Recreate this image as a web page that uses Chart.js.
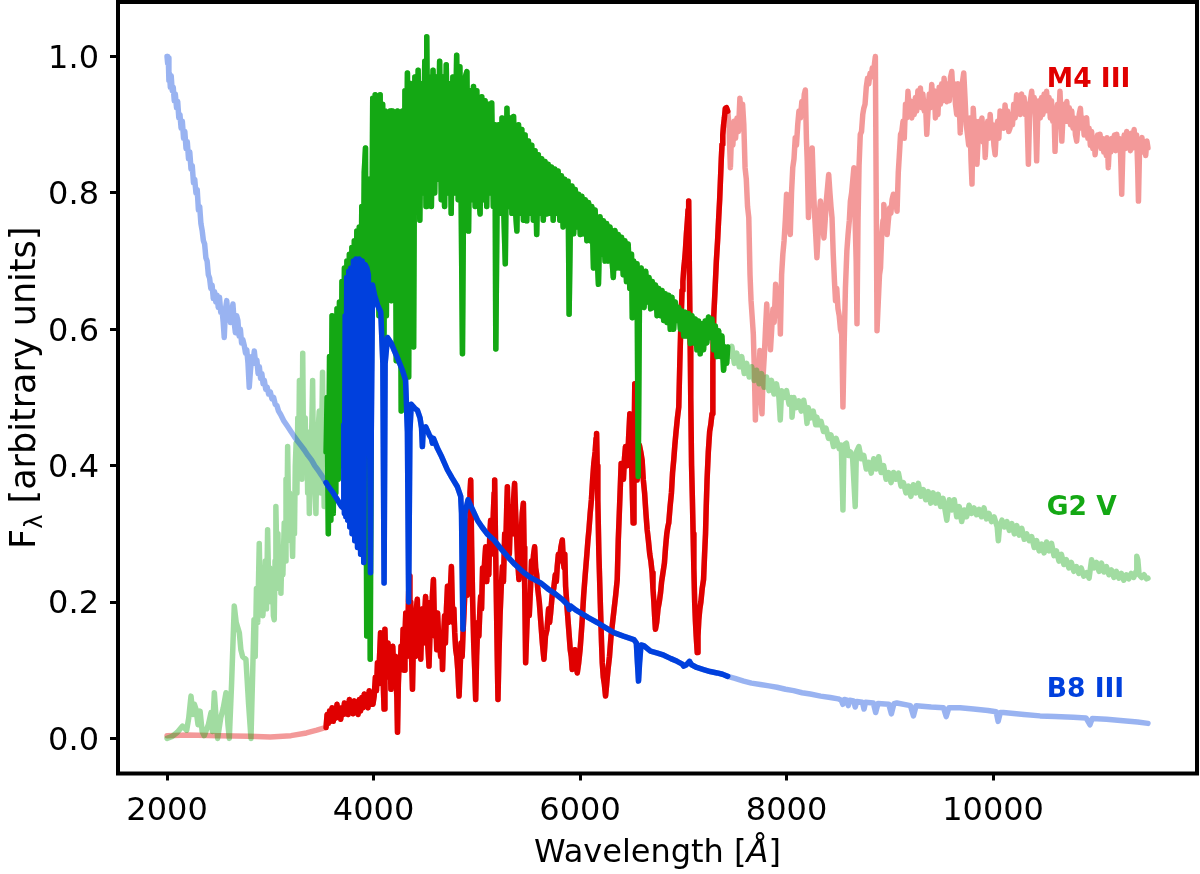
<!DOCTYPE html>
<html lang="en">
<head>
<meta charset="UTF-8">
<title>Stellar spectra</title>
<style>
  html, body { margin: 0; padding: 0; background: #fff; }
  #wrap { width: 1200px; height: 874px; }
</style>
</head>
<body>
<div id="wrap"><canvas id="spectra" width="1200" height="874"></canvas></div>
<script src="https://cdn.jsdelivr.net/npm/chart.js"></script>
<script>
// [wavelength (Angstrom), flux]
const b8III = [
  [2000,1.00],[2006,0.99],[2012,0.998],[2018,0.965],[2024,0.975],[2032,0.955],[2040,0.972],[2050,0.95],
  [2060,0.955],[2070,0.935],[2080,0.945],[2092,0.925],[2103,0.934],[2114,0.91],[2125,0.915],[2136,0.895],
  [2148,0.905],[2160,0.88],[2172,0.89],[2184,0.865],[2196,0.875],[2208,0.85],[2220,0.86],[2232,0.835],
  [2244,0.84],[2256,0.815],[2268,0.82],[2280,0.80],[2292,0.805],[2304,0.775],[2316,0.78],[2328,0.755],
  [2340,0.745],[2352,0.73],[2364,0.725],[2376,0.705],[2388,0.70],[2400,0.68],[2412,0.675],[2424,0.66],
  [2436,0.665],[2448,0.645],[2460,0.655],[2472,0.64],[2484,0.65],[2496,0.632],[2508,0.647],[2520,0.625],
  [2532,0.63],[2544,0.61],[2554,0.588],[2566,0.63],[2578,0.642],[2590,0.62],[2602,0.63],[2614,0.61],
  [2626,0.625],[2638,0.637],[2650,0.61],[2662,0.595],[2674,0.62],[2686,0.613],[2698,0.59],[2710,0.60],
  [2722,0.58],[2734,0.585],[2748,0.576],[2760,0.565],[2772,0.57],[2784,0.55],[2796,0.515],[2808,0.54],
  [2820,0.56],[2832,0.55],[2845,0.568],[2858,0.55],[2870,0.555],[2882,0.535],[2894,0.545],[2906,0.528],
  [2918,0.535],[2930,0.52],[2942,0.525],[2956,0.512],[2970,0.515],[2984,0.505],[3000,0.508],[3016,0.498],
  [3032,0.50],[3048,0.49],[3064,0.488],[3080,0.48],[3100,0.475],[3130,0.466],[3165,0.458],[3200,0.45],
  [3235,0.442],[3270,0.435],[3300,0.429],[3330,0.423],[3365,0.415],[3400,0.408],[3430,0.40],[3460,0.394],
  [3500,0.385],[3540,0.375],
  [3560,0.37],[3600,0.362],[3650,0.350],[3690,0.34],[3705,0.338],[3712,0.46],[3718,0.33],[3725,0.62],
  [3732,0.325],[3740,0.676],[3750,0.32],[3760,0.685],[3770,0.31],[3780,0.69],[3792,0.30],[3805,0.70],
  [3818,0.29],[3830,0.703],[3845,0.28],[3860,0.703],[3875,0.27],[3890,0.70],[3905,0.258],[3918,0.695],
  [3935,0.69],[3950,0.68],[3962,0.45],[3970,0.243],[3978,0.45],[3990,0.665],[4010,0.65],[4040,0.635],
  [4070,0.625],[4090,0.55],[4102,0.228],[4112,0.55],[4135,0.588],[4170,0.58],[4200,0.569],[4240,0.555],
  [4280,0.54],[4310,0.525],[4328,0.45],[4340,0.20],[4352,0.45],[4365,0.49],[4400,0.484],[4425,0.481],
  [4450,0.47],[4465,0.455],[4473,0.428],[4482,0.455],[4505,0.457],[4540,0.445],[4560,0.44],[4570,0.433],
  [4580,0.44],[4620,0.425],[4660,0.413],[4715,0.394],[4760,0.382],[4812,0.369],[4844,0.355],[4852,0.33],
  [4858,0.25],[4866,0.16],[4874,0.25],[4885,0.33],[4915,0.35],[4960,0.335],[5006,0.32],[5050,0.31],
  [5100,0.30],[5166,0.291],[5230,0.279],[5296,0.267],[5370,0.255],[5457,0.243],[5530,0.235],[5618,0.228],
  [5700,0.218],[5760,0.212],[5827,0.204],[5880,0.196],[5895,0.189],[5910,0.194],[5960,0.188],[6005,0.184],
  [6080,0.177],[6166,0.17],[6250,0.162],[6327,0.155],[6420,0.15],[6520,0.145],[6545,0.14],[6556,0.11],
  [6566,0.084],[6576,0.11],[6590,0.137],[6617,0.136],[6682,0.128],[6750,0.125],[6811,0.122],[6880,0.117],
  [6940,0.113],[6990,0.109],[7004,0.106],[7030,0.108],[7060,0.113],[7080,0.108],[7130,0.104],[7196,0.101],
  [7260,0.098],[7327,0.096],[7380,0.094],[7430,0.091],
  [7500,0.088],[7585,0.084],[7660,0.081],[7746,0.079],[7830,0.077],[7907,0.075],[7990,0.072],[8068,0.070],
  [8150,0.067],[8230,0.065],[8330,0.062],[8423,0.060],[8500,0.058],[8530,0.056],[8545,0.050],[8560,0.057],
  [8585,0.056],[8598,0.048],[8612,0.056],[8650,0.055],[8665,0.046],[8680,0.054],[8735,0.053],[8750,0.043],
  [8765,0.053],[8840,0.052],[8863,0.038],[8885,0.051],[8990,0.050],[9015,0.036],[9040,0.051],[9068,0.052],
  [9200,0.048],[9229,0.033],[9255,0.048],[9400,0.046],[9520,0.045],[9546,0.032],[9572,0.045],[9681,0.045],
  [9810,0.043],[9950,0.041],[10030,0.039],[10049,0.025],[10070,0.038],[10100,0.038],[10300,0.035],[10455,0.033],
  [10600,0.032],[10777,0.031],[10900,0.030],[10938,0.020],[10960,0.029],[11100,0.028],[11261,0.026],[11400,0.024],
  [11500,0.022]
];

const g2V = [
  [2000,0.0],[2050,0.003],[2100,0.009],[2150,0.018],[2190,0.012],[2210,0.03],[2232,0.062],[2250,0.035],
  [2265,0.05],[2280,0.043],[2300,0.02],[2320,0.04],[2340,0.01],[2360,0.004],[2400,0.02],[2426,0.038],
  [2440,0.01],[2458,0.067],[2475,0.03],[2490,0.0],[2520,0.03],[2545,0.045],[2571,0.067],[2590,0.02],
  [2603,0.0],[2625,0.08],[2651,0.194],[2670,0.17],[2700,0.155],[2715,0.13],[2732,0.12],[2764,0.116],
  [2790,0.05],[2813,0.0],[2830,0.10],[2842,0.174],[2854,0.12],[2866,0.22],[2878,0.17],[2893,0.286],
  [2904,0.20],[2915,0.24],[2928,0.18],[2941,0.213],[2952,0.26],[2963,0.19],[2974,0.306],[2985,0.22],
  [2996,0.25],[3008,0.20],[3020,0.24],[3030,0.18],[3038,0.174],[3046,0.26],[3054,0.34],[3064,0.26],
  [3074,0.30],[3084,0.22],[3094,0.25],[3103,0.213],[3112,0.27],[3122,0.24],[3135,0.316],[3144,0.26],
  [3152,0.38],[3160,0.30],[3168,0.428],[3177,0.33],[3186,0.36],[3195,0.29],[3204,0.32],[3216,0.267],
  [3225,0.35],[3234,0.30],[3242,0.40],[3250,0.433],[3258,0.36],[3266,0.47],[3274,0.40],[3282,0.525],
  [3290,0.42],[3298,0.46],[3306,0.38],[3314,0.565],[3322,0.42],[3330,0.398],[3338,0.47],[3346,0.40],
  [3354,0.45],[3362,0.36],[3370,0.42],[3378,0.33],[3386,0.40],[3394,0.408],[3402,0.46],[3410,0.525],
  [3418,0.40],[3426,0.44],[3434,0.36],[3442,0.33],[3450,0.41],[3458,0.37],[3466,0.46],[3474,0.48],
  [3482,0.40],[3490,0.36],[3498,0.45],[3506,0.537],[3514,0.42],[3522,0.34],[3530,0.45],[3540,0.42],
  [3550,0.50],[3562,0.30],[3574,0.56],[3586,0.32],[3598,0.62],[3610,0.33],[3622,0.60],[3634,0.36],
  [3646,0.63],[3658,0.38],[3670,0.64],[3682,0.40],[3694,0.67],[3706,0.44],[3718,0.69],[3730,0.48],
  [3742,0.70],[3754,0.52],[3766,0.71],[3778,0.55],[3790,0.72],[3802,0.58],[3814,0.73],[3826,0.56],
  [3838,0.744],[3850,0.60],[3862,0.75],[3874,0.57],[3886,0.78],[3898,0.62],[3910,0.83],[3922,0.866],
  [3934,0.15],[3946,0.50],[3956,0.82],[3968,0.116],[3980,0.62],[3992,0.939],[4004,0.66],[4016,0.944],
  [4028,0.70],[4040,0.93],[4052,0.62],[4064,0.944],[4076,0.68],[4088,0.93],[4100,0.55],[4112,0.92],
  [4124,0.62],[4136,0.90],[4148,0.70],[4160,0.92],[4172,0.642],[4184,0.92],[4196,0.72],[4208,0.91],
  [4220,0.554],[4232,0.92],[4244,0.66],[4256,0.90],[4268,0.48],[4280,0.92],[4292,0.50],[4304,0.95],
  [4316,0.70],[4328,0.976],[4340,0.53],[4352,0.961],[4364,0.74],[4376,0.95],[4388,0.574],[4400,0.97],
  [4416,0.78],[4432,0.98],[4448,0.76],[4464,0.96],[4480,0.80],[4496,0.993],[4508,0.78],[4515,1.029],
  [4528,0.80],[4544,0.97],[4560,0.78],[4576,0.98],[4592,0.80],[4608,0.97],[4624,0.82],[4640,0.993],
  [4656,0.79],[4672,0.97],[4688,0.78],[4704,0.988],[4720,0.80],[4736,0.96],[4752,0.77],[4768,0.97],
  [4784,0.80],[4805,1.002],[4820,0.79],[4836,0.985],[4848,0.80],[4861,0.564],[4872,0.80],[4888,0.97],
  [4904,0.978],[4920,0.744],[4936,0.95],[4952,0.79],[4968,0.956],[4984,0.78],[5000,0.95],[5016,0.80],
  [5032,0.769],[5048,0.941],[5064,0.79],[5080,0.935],[5096,0.78],[5112,0.93],[5128,0.80],[5144,0.932],
  [5160,0.78],[5176,0.90],[5184,0.571],[5196,0.78],[5212,0.90],[5228,0.77],[5244,0.91],[5260,0.78],
  [5276,0.696],[5292,0.924],[5308,0.78],[5324,0.91],[5340,0.77],[5356,0.912],[5372,0.78],[5388,0.744],
  [5404,0.90],[5420,0.77],[5436,0.893],[5452,0.76],[5468,0.885],[5484,0.759],[5500,0.876],[5516,0.77],
  [5532,0.87],[5548,0.76],[5564,0.862],[5580,0.739],[5596,0.856],[5612,0.77],[5628,0.85],[5644,0.76],
  [5660,0.846],[5676,0.769],[5692,0.842],[5708,0.77],[5724,0.838],[5740,0.76],[5756,0.835],[5772,0.77],
  [5788,0.832],[5804,0.76],[5820,0.825],[5836,0.75],[5852,0.82],[5868,0.76],[5884,0.817],[5894,0.622],
  [5906,0.75],[5922,0.81],[5938,0.74],[5954,0.805],[5970,0.75],[5986,0.798],[6002,0.739],[6018,0.795],
  [6034,0.74],[6050,0.79],[6066,0.73],[6082,0.786],[6098,0.73],[6114,0.78],[6130,0.69],[6146,0.775],
  [6162,0.72],[6178,0.666],[6194,0.765],[6210,0.71],[6226,0.759],[6242,0.70],[6258,0.755],[6274,0.70],
  [6290,0.75],[6306,0.71],[6322,0.676],[6338,0.745],[6354,0.69],[6370,0.739],[6386,0.69],[6402,0.735],
  [6418,0.68],[6434,0.73],[6450,0.67],[6466,0.725],[6482,0.66],[6498,0.71],[6506,0.617],[6520,0.70],
  [6536,0.66],[6552,0.696],[6563,0.384],[6576,0.66],[6592,0.69],[6608,0.64],[6620,0.632],[6636,0.685],
  [6652,0.64],[6668,0.676],[6684,0.63],[6700,0.67],[6714,0.632],[6730,0.665],[6746,0.62],[6762,0.66],
  [6778,0.62],[6794,0.657],[6810,0.613],[6826,0.652],[6842,0.61],[6858,0.65],[6874,0.60],[6890,0.647],
  [6906,0.60],[6922,0.64],[6940,0.613],[6956,0.632],[6972,0.60],[6988,0.627],[7004,0.59],[7020,0.625],
  [7036,0.59],[7052,0.623],[7068,0.579],[7084,0.62],[7100,0.58],[7116,0.615],[7132,0.57],[7148,0.612],
  [7164,0.564],[7180,0.608],[7196,0.57],[7212,0.612],[7228,0.58],[7244,0.618],[7262,0.588],[7278,0.615],
  [7294,0.57],[7310,0.605],[7326,0.56],[7342,0.598],[7358,0.56],[7374,0.59],[7390,0.54],[7406,0.574],
  [7420,0.55],[7430,0.574],
  [7446,0.56],[7470,0.575],[7494,0.55],[7518,0.565],[7542,0.545],[7566,0.56],[7590,0.535],[7614,0.55],
  [7638,0.53],[7662,0.545],[7686,0.525],[7710,0.54],[7734,0.52],[7758,0.535],[7782,0.515],[7806,0.53],
  [7830,0.51],[7854,0.525],[7878,0.505],[7902,0.52],[7926,0.50],[7939,0.467],[7952,0.51],[7976,0.50],
  [8000,0.51],[8024,0.49],[8048,0.50],[8053,0.471],[8070,0.50],[8094,0.485],[8118,0.495],[8142,0.48],
  [8166,0.496],[8190,0.475],[8198,0.462],[8210,0.485],[8234,0.47],[8258,0.48],[8282,0.46],[8294,0.471],
  [8310,0.46],[8334,0.465],[8358,0.45],[8382,0.455],[8406,0.44],[8430,0.445],[8455,0.428],[8480,0.44],
  [8510,0.425],[8530,0.43],[8546,0.335],[8556,0.43],[8580,0.433],[8600,0.415],[8620,0.42],[8640,0.41],
  [8665,0.34],[8676,0.42],[8700,0.428],[8724,0.41],[8748,0.415],[8772,0.395],[8796,0.405],[8820,0.389],
  [8844,0.41],[8868,0.395],[8892,0.413],[8916,0.39],[8940,0.40],[8964,0.38],[8988,0.39],[9012,0.375],
  [9036,0.39],[9060,0.38],[9084,0.389],[9108,0.37],[9132,0.375],[9156,0.36],[9180,0.37],[9204,0.355],
  [9228,0.372],[9252,0.36],[9276,0.374],[9300,0.355],[9324,0.365],[9348,0.35],[9372,0.362],[9396,0.345],
  [9420,0.36],[9444,0.345],[9468,0.358],[9492,0.34],[9516,0.352],[9552,0.32],[9576,0.35],[9600,0.335],
  [9624,0.35],[9648,0.325],[9672,0.34],[9696,0.318],[9720,0.335],[9744,0.325],[9768,0.342],[9792,0.33],
  [9816,0.338],[9840,0.328],[9864,0.336],[9888,0.325],[9912,0.338],[9936,0.322],[9960,0.33],[9984,0.318],
  [10010,0.325],[10040,0.31],[10051,0.29],[10062,0.31],[10086,0.32],[10110,0.31],[10134,0.318],[10158,0.305],
  [10182,0.315],[10206,0.30],[10230,0.312],[10254,0.298],[10278,0.308],[10302,0.292],[10326,0.30],[10350,0.29],
  [10374,0.296],[10398,0.28],[10422,0.29],[10446,0.275],[10470,0.285],[10494,0.272],[10518,0.288],[10542,0.275],
  [10566,0.286],[10590,0.268],[10614,0.275],[10638,0.26],[10662,0.27],[10686,0.255],[10710,0.262],[10734,0.25],
  [10758,0.258],[10782,0.245],[10806,0.252],[10830,0.242],[10854,0.25],[10878,0.238],[10906,0.243],[10930,0.235],
  [10954,0.262],[10978,0.25],[11002,0.258],[11026,0.245],[11050,0.257],[11074,0.244],[11098,0.252],[11122,0.24],
  [11146,0.247],[11170,0.236],[11194,0.245],[11218,0.235],[11242,0.242],[11266,0.232],[11290,0.24],[11314,0.234],
  [11338,0.242],[11362,0.236],[11386,0.245],[11392,0.267],[11402,0.262],[11414,0.24],[11438,0.236],[11462,0.24],
  [11486,0.234],[11500,0.235]
];

const m4III = [
  [2000,0.004],[2200,0.005],[2500,0.004],[2800,0.003],[3000,0.002],[3200,0.004],[3350,0.008],[3450,0.012],
  [3540,0.016],
  [3550,0.035],[3562,0.022],[3574,0.04],[3586,0.025],[3598,0.045],[3610,0.025],[3622,0.04],[3634,0.03],
  [3646,0.05],[3658,0.032],[3670,0.04],[3682,0.028],[3694,0.045],[3706,0.035],[3718,0.052],[3730,0.036],
  [3742,0.045],[3754,0.035],[3766,0.057],[3778,0.04],[3790,0.05],[3802,0.036],[3814,0.055],[3826,0.04],
  [3838,0.05],[3850,0.035],[3862,0.057],[3874,0.04],[3886,0.06],[3898,0.045],[3910,0.065],[3922,0.05],
  [3934,0.055],[3946,0.045],[3958,0.07],[3970,0.05],[3982,0.065],[3994,0.05],[4006,0.062],[4018,0.09],
  [4028,0.07],[4038,0.111],[4048,0.08],[4058,0.12],[4068,0.155],[4078,0.10],[4088,0.13],[4096,0.07],
  [4102,0.043],[4110,0.16],[4120,0.11],[4130,0.09],[4140,0.14],[4150,0.10],[4160,0.13],[4168,0.072],
  [4178,0.12],[4186,0.135],[4196,0.10],[4206,0.121],[4216,0.09],[4226,0.06],[4232,0.009],[4240,0.08],
  [4250,0.12],[4258,0.10],[4266,0.135],[4276,0.11],[4286,0.16],[4296,0.10],[4304,0.15],[4312,0.184],
  [4320,0.12],[4330,0.15],[4338,0.20],[4344,0.238],[4352,0.17],[4360,0.20],[4368,0.12],[4377,0.072],
  [4386,0.14],[4394,0.17],[4404,0.12],[4414,0.19],[4424,0.204],[4432,0.15],[4440,0.17],[4448,0.13],
  [4457,0.116],[4466,0.16],[4474,0.19],[4484,0.14],[4494,0.18],[4504,0.208],[4512,0.16],[4520,0.15],
  [4528,0.13],[4537,0.106],[4546,0.15],[4554,0.20],[4562,0.17],[4570,0.21],[4580,0.233],[4588,0.18],
  [4596,0.15],[4604,0.17],[4612,0.13],[4620,0.184],[4630,0.15],[4640,0.14],[4650,0.12],[4660,0.15],
  [4668,0.101],[4678,0.15],[4688,0.18],[4696,0.14],[4706,0.19],[4716,0.223],[4724,0.17],[4734,0.18],
  [4744,0.22],[4754,0.252],[4762,0.20],[4770,0.17],[4778,0.19],[4786,0.155],[4796,0.13],[4806,0.12],
  [4816,0.10],[4828,0.062],[4838,0.10],[4848,0.14],[4858,0.12],[4868,0.16],[4876,0.184],[4886,0.22],
  [4896,0.26],[4906,0.21],[4916,0.30],[4926,0.32],[4934,0.36],[4941,0.379],[4950,0.28],[4960,0.20],
  [4970,0.14],[4980,0.10],[4989,0.057],[4998,0.12],[5010,0.17],[5020,0.15],[5030,0.19],[5037,0.208],
  [5046,0.19],[5056,0.25],[5066,0.23],[5076,0.26],[5086,0.281],[5096,0.23],[5106,0.26],[5116,0.24],
  [5126,0.30],[5134,0.32],[5142,0.27],[5150,0.28],[5160,0.33],[5168,0.36],[5173,0.379],[5182,0.28],
  [5190,0.20],[5198,0.12],[5205,0.057],[5214,0.12],[5225,0.18],[5236,0.22],[5248,0.252],[5258,0.23],
  [5270,0.30],[5280,0.28],[5290,0.34],[5296,0.369],[5306,0.30],[5315,0.27],[5325,0.32],[5335,0.34],
  [5345,0.30],[5356,0.35],[5366,0.374],[5376,0.33],[5385,0.30],[5396,0.26],[5408,0.233],[5418,0.27],
  [5430,0.30],[5440,0.33],[5451,0.345],[5458,0.28],[5464,0.22],[5473,0.111],[5484,0.16],[5495,0.20],
  [5508,0.18],[5521,0.223],[5530,0.26],[5540,0.25],[5550,0.27],[5560,0.281],[5570,0.25],[5580,0.24],
  [5590,0.22],[5605,0.20],[5620,0.17],[5635,0.14],[5650,0.116],[5665,0.15],[5680,0.16],[5695,0.19],
  [5705,0.17],[5715,0.184],[5730,0.21],[5745,0.22],[5760,0.24],[5770,0.23],[5779,0.252],[5790,0.27],
  [5800,0.26],[5814,0.28],[5828,0.291],[5838,0.26],[5845,0.25],[5852,0.27],[5860,0.223],[5875,0.19],
  [5890,0.16],[5905,0.13],[5915,0.12],[5924,0.101],[5935,0.12],[5950,0.13],[5962,0.11],[5973,0.096],
  [5986,0.11],[6000,0.13],[6010,0.15],[6021,0.174],[6035,0.21],[6050,0.24],[6066,0.27],[6076,0.29],
  [6086,0.306],[6098,0.33],[6110,0.35],[6122,0.38],[6133,0.403],[6146,0.42],[6155,0.44],[6160,0.447],
  [6166,0.40],[6172,0.35],[6182,0.272],[6192,0.22],[6200,0.18],[6208,0.14],[6215,0.111],[6225,0.09],
  [6235,0.08],[6247,0.062],[6258,0.08],[6270,0.10],[6285,0.12],[6300,0.15],[6315,0.17],[6330,0.19],
  [6345,0.21],[6360,0.233],[6370,0.29],[6380,0.33],[6390,0.37],[6398,0.403],[6408,0.39],[6420,0.38],
  [6430,0.41],[6440,0.428],[6450,0.41],[6460,0.40],[6470,0.44],[6482,0.476],[6492,0.44],[6500,0.40],
  [6508,0.35],[6514,0.316],[6522,0.42],[6530,0.52],[6540,0.45],[6553,0.379],[6563,0.40],[6575,0.43],
  [6588,0.42],[6601,0.408],[6612,0.38],[6625,0.36],[6638,0.33],[6650,0.306],[6662,0.29],[6675,0.27],
  [6686,0.26],[6698,0.243],[6706,0.22],[6715,0.20],[6722,0.18],[6730,0.16],[6742,0.17],[6755,0.19],
  [6767,0.20],[6779,0.213],[6790,0.23],[6800,0.24],[6810,0.25],[6817,0.257],[6828,0.28],[6840,0.30],
  [6850,0.31],[6859,0.316],[6872,0.34],[6885,0.36],[6896,0.39],[6907,0.408],[6918,0.43],[6930,0.45],
  [6943,0.47],[6956,0.486],[6966,0.55],[6975,0.60],[6982,0.63],[6988,0.657],[6996,0.67],[7005,0.69],
  [7012,0.70],[7020,0.715],[7030,0.74],[7040,0.76],[7046,0.775],[7052,0.788],[7058,0.70],[7065,0.60],
  [7072,0.50],[7080,0.40],[7088,0.35],[7095,0.30],[7102,0.25],[7110,0.20],[7118,0.17],[7125,0.15],
  [7135,0.126],[7142,0.15],[7150,0.174],[7160,0.19],[7170,0.20],[7183,0.22],[7196,0.233],[7206,0.27],
  [7215,0.30],[7222,0.34],[7230,0.379],[7242,0.42],[7255,0.45],[7266,0.46],[7278,0.476],[7286,0.55],
  [7295,0.62],[7308,0.66],[7320,0.70],[7332,0.73],[7343,0.764],[7352,0.79],[7360,0.82],[7368,0.85],
  [7375,0.871],[7382,0.885],[7390,0.90],[7398,0.91],[7407,0.924],[7418,0.925],[7430,0.92],
  [7442,0.90],[7456,0.837],[7468,0.89],[7480,0.87],[7492,0.905],[7506,0.88],[7520,0.91],[7534,0.89],
  [7548,0.939],[7560,0.91],[7574,0.93],[7586,0.90],[7598,0.837],[7610,0.82],[7622,0.78],[7634,0.764],
  [7646,0.68],[7656,0.642],[7666,0.62],[7678,0.593],[7688,0.54],[7698,0.467],[7708,0.515],[7718,0.50],
  [7730,0.53],[7742,0.569],[7752,0.50],[7762,0.476],[7772,0.53],[7784,0.56],[7796,0.60],[7808,0.637],
  [7820,0.59],[7832,0.61],[7844,0.57],[7856,0.60],[7868,0.63],[7880,0.61],[7894,0.666],[7906,0.64],
  [7918,0.62],[7930,0.66],[7940,0.593],[7952,0.68],[7964,0.71],[7976,0.73],[7988,0.76],[8000,0.798],
  [8012,0.77],[8024,0.75],[8036,0.739],[8048,0.80],[8060,0.837],[8072,0.85],[8084,0.881],[8096,0.87],
  [8108,0.90],[8120,0.92],[8134,0.91],[8148,0.934],[8160,0.92],[8172,0.945],[8182,0.951],[8192,0.88],
  [8200,0.847],[8212,0.764],[8224,0.82],[8236,0.85],[8248,0.866],[8260,0.81],[8270,0.773],[8282,0.74],
  [8294,0.705],[8306,0.74],[8318,0.77],[8328,0.788],[8340,0.77],[8352,0.75],[8362,0.734],[8374,0.76],
  [8386,0.79],[8398,0.81],[8408,0.827],[8420,0.80],[8430,0.78],[8440,0.764],[8452,0.71],[8464,0.67],
  [8474,0.642],[8486,0.66],[8498,0.63],[8510,0.62],[8522,0.60],[8534,0.593],[8546,0.486],[8558,0.58],
  [8570,0.66],[8584,0.715],[8596,0.74],[8608,0.76],[8618,0.788],[8630,0.80],[8642,0.82],[8652,0.837],
  [8664,0.76],[8674,0.70],[8682,0.608],[8692,0.76],[8702,0.84],[8714,0.886],[8726,0.89],[8738,0.915],
  [8748,0.924],[8760,0.93],[8772,0.955],[8784,0.968],[8796,0.96],[8808,0.975],[8820,0.97],[8830,0.983],
  [8842,0.975],[8852,0.99],[8860,1.0],[8868,0.80],[8876,0.598],[8888,0.64],[8900,0.68],[8910,0.69],
  [8922,0.74],[8934,0.76],[8942,0.783],[8954,0.76],[8964,0.75],[8974,0.739],[8986,0.76],[8998,0.778],
  [9010,0.77],[9022,0.79],[9034,0.798],[9046,0.78],[9058,0.79],[9070,0.773],[9082,0.83],[9094,0.86],
  [9104,0.886],[9116,0.89],[9128,0.905],[9140,0.88],[9152,0.93],[9164,0.91],[9176,0.949],[9188,0.92],
  [9200,0.935],[9212,0.91],[9224,0.93],[9236,0.915],[9248,0.94],[9260,0.92],[9272,0.95],[9284,0.93],
  [9296,0.954],[9308,0.925],[9320,0.945],[9334,0.92],[9346,0.93],[9358,0.886],[9370,0.92],[9382,0.945],
  [9394,0.925],[9406,0.959],[9418,0.93],[9430,0.95],[9442,0.91],[9454,0.935],[9466,0.915],[9478,0.955],
  [9490,0.93],[9502,0.96],[9514,0.935],[9526,0.968],[9538,0.94],[9552,0.934],[9564,0.96],[9576,0.935],
  [9588,0.97],[9600,0.978],[9612,0.945],[9624,0.96],[9636,0.93],[9648,0.915],[9660,0.96],[9670,0.94],
  [9682,0.888],[9694,0.95],[9706,0.965],[9716,0.976],[9728,0.94],[9740,0.90],[9752,0.886],[9764,0.87],
  [9776,0.91],[9786,0.85],[9796,0.813],[9808,0.924],[9820,0.89],[9832,0.905],[9844,0.842],[9856,0.88],
  [9868,0.905],[9880,0.88],[9892,0.91],[9904,0.875],[9914,0.89],[9924,0.852],[9936,0.89],[9948,0.905],
  [9960,0.88],[9972,0.915],[9984,0.885],[9996,0.90],[10008,0.87],[10020,0.856],[10032,0.89],[10044,0.905],
  [10056,0.88],[10068,0.92],[10080,0.90],[10092,0.915],[10104,0.895],[10116,0.929],[10128,0.905],[10140,0.92],
  [10152,0.89],[10164,0.895],[10176,0.915],[10188,0.90],[10200,0.93],[10214,0.91],[10228,0.944],[10240,0.92],
  [10252,0.94],[10264,0.915],[10276,0.945],[10288,0.92],[10300,0.94],[10312,0.915],[10326,0.93],[10342,0.842],
  [10356,0.93],[10374,0.949],[10386,0.925],[10398,0.94],[10410,0.91],[10422,0.847],[10434,0.92],[10446,0.935],
  [10458,0.91],[10470,0.94],[10482,0.915],[10494,0.945],[10506,0.92],[10518,0.949],[10530,0.925],[10542,0.94],
  [10554,0.91],[10566,0.935],[10578,0.905],[10590,0.92],[10600,0.861],[10612,0.91],[10624,0.93],[10636,0.91],
  [10648,0.949],[10658,0.91],[10666,0.876],[10678,0.915],[10690,0.93],[10702,0.905],[10714,0.934],[10726,0.905],
  [10738,0.925],[10750,0.90],[10762,0.92],[10774,0.895],[10786,0.91],[10798,0.885],[10810,0.876],[10822,0.90],
  [10834,0.915],[10846,0.924],[10858,0.895],[10870,0.91],[10882,0.885],[10894,0.905],[10906,0.91],[10918,0.88],
  [10930,0.895],[10942,0.87],[10954,0.89],[10966,0.865],[10978,0.88],[10988,0.856],[11000,0.875],[11012,0.885],
  [11024,0.87],[11036,0.886],[11048,0.865],[11060,0.88],[11072,0.86],[11084,0.875],[11096,0.855],[11104,0.881],
  [11116,0.837],[11128,0.875],[11140,0.86],[11152,0.88],[11164,0.865],[11176,0.885],[11188,0.862],[11198,0.886],
  [11210,0.865],[11222,0.88],[11234,0.86],[11246,0.798],[11258,0.87],[11270,0.885],[11282,0.865],[11294,0.89],
  [11306,0.87],[11318,0.885],[11330,0.862],[11342,0.888],[11354,0.866],[11366,0.893],[11378,0.87],[11390,0.885],
  [11400,0.84],[11408,0.788],[11418,0.86],[11430,0.875],[11442,0.881],[11454,0.86],[11466,0.875],[11478,0.855],
  [11490,0.876],[11500,0.866]
];

const xTicks = [2000, 4000, 6000, 8000, 10000];
const yTicks = [0.0, 0.2, 0.4, 0.6, 0.8, 1.0];
const starNames = ['M4 III', 'G2 V', 'B8 III'];
// part of each spectrum drawn in full colour (optical coverage)
const opticalRange = [3540, 7435];

const colors = {
  red: '#e00000', redLight: 'rgba(224,0,0,0.4)',
  green: '#14a814', greenLight: 'rgba(20,168,20,0.4)',
  blue: '#0040dd', blueLight: 'rgba(0,64,221,0.4)'
};
const labelColors = [colors.red, colors.green, colors.blue];
// where the star names sit, in data units
const labelAnchor = { x: 10520, y: [0.956, 0.328, 0.060] };

function toPoints(spec) {
  return spec.map(([w, f]) => ({ x: w, y: f }));
}
function optical(spec) {
  return toPoints(spec.filter(([w]) => w >= opticalRange[0] && w <= opticalRange[1]));
}
function line(label, data, color) {
  return {
    label, data,
    borderColor: color,
    borderWidth: 5.5,
    pointRadius: 0,
    tension: 0,
    fill: false,
    borderJoinStyle: 'round',
    borderCapStyle: 'round'
  };
}

// draw a line of text made of pieces with different fonts, centred on cx
function drawRuns(ctx, runs, cx, baseline) {
  let total = 0;
  runs.forEach(r => { ctx.font = r.font; r.w = ctx.measureText(r.text).width; total += r.w; });
  let x = cx - total / 2;
  runs.forEach(r => {
    ctx.font = r.font;
    ctx.fillText(r.text, x, baseline + (r.dy || 0));
    x += r.w;
  });
}

const FONT = '"DejaVu Sans", sans-serif';

const decorations = {
  id: 'decorations',
  afterDatasetsDraw(chart) {
    const { ctx, chartArea: a, scales } = chart;
    ctx.save();
    ctx.strokeStyle = '#000';
    ctx.lineWidth = 4;
    ctx.strokeRect(a.left, a.top, a.right - a.left, a.bottom - a.top);

    ctx.font = 'bold 26.5px ' + FONT;
    ctx.textAlign = 'left';
    ctx.textBaseline = 'alphabetic';
    starNames.forEach((name, i) => {
      ctx.fillStyle = labelColors[i];
      ctx.fillText(name, scales.x.getPixelForValue(labelAnchor.x), scales.y.getPixelForValue(labelAnchor.y[i]));
    });

    // axis titles
    ctx.fillStyle = '#000';
    drawRuns(ctx, [
      { text: 'Wavelength [', font: '32px ' + FONT },
      { text: 'Å', font: 'italic 32px ' + FONT },
      { text: ']', font: '32px ' + FONT }
    ], (a.left + a.right) / 2, 862);

    ctx.translate(35, (a.top + a.bottom) / 2);
    ctx.rotate(-Math.PI / 2);
    drawRuns(ctx, [
      { text: 'F', font: '35px ' + FONT },
      { text: 'λ', font: '24px ' + FONT, dy: 7 },
      { text: ' [arbitrary units]', font: '35px ' + FONT }
    ], 0, 0);
    ctx.restore();
  }
};

new Chart(document.getElementById('spectra'), {
  type: 'line',
  data: {
    datasets: [
      line('B8 III optical', optical(b8III), colors.blue),
      line('G2 V optical', optical(g2V), colors.green),
      line('M4 III optical', optical(m4III), colors.red),
      line('B8 III', toPoints(b8III), colors.blueLight),
      line('G2 V', toPoints(g2V), colors.greenLight),
      line('M4 III', toPoints(m4III), colors.redLight)
    ]
  },
  options: {
    responsive: false,
    devicePixelRatio: 1,
    animation: false,
    layout: { padding: { left: 0, right: 3, top: 2, bottom: 0 } },
    plugins: { legend: { display: false }, tooltip: { enabled: false } },
    scales: {
      x: {
        type: 'linear',
        min: 1525,
        max: 11975,
        afterBuildTicks: s => { s.ticks = xTicks.map(v => ({ value: v })); },
        afterFit: s => { s.height = 100.5; s.paddingLeft = 0; s.paddingRight = 0; },
        ticks: {
          callback: v => String(v),
          font: { family: FONT, size: 32 },
          color: '#000',
          padding: 12,
          maxRotation: 0,
          autoSkip: false
        },
        grid: {
          display: true, drawOnChartArea: false, drawTicks: true,
          tickLength: 7, tickWidth: 3, tickColor: '#000', color: '#000', lineWidth: 3
        },
        border: { display: false }
      },
      y: {
        type: 'linear',
        min: -0.0515,
        max: 1.08,
        afterBuildTicks: s => { s.ticks = yTicks.map(v => ({ value: v })); },
        afterFit: s => { s.width = 118; s.paddingTop = 0; s.paddingBottom = 0; },
        ticks: {
          callback: v => v.toFixed(1),
          font: { family: FONT, size: 32 },
          color: '#000',
          padding: 11,
          labelOffset: 3,
          autoSkip: false
        },
        grid: {
          display: true, drawOnChartArea: false, drawTicks: true,
          tickLength: 8, tickWidth: 3, tickColor: '#000', color: '#000', lineWidth: 3
        },
        border: { display: false }
      }
    }
  },
  plugins: [decorations]
});
</script>
</body>
</html>
